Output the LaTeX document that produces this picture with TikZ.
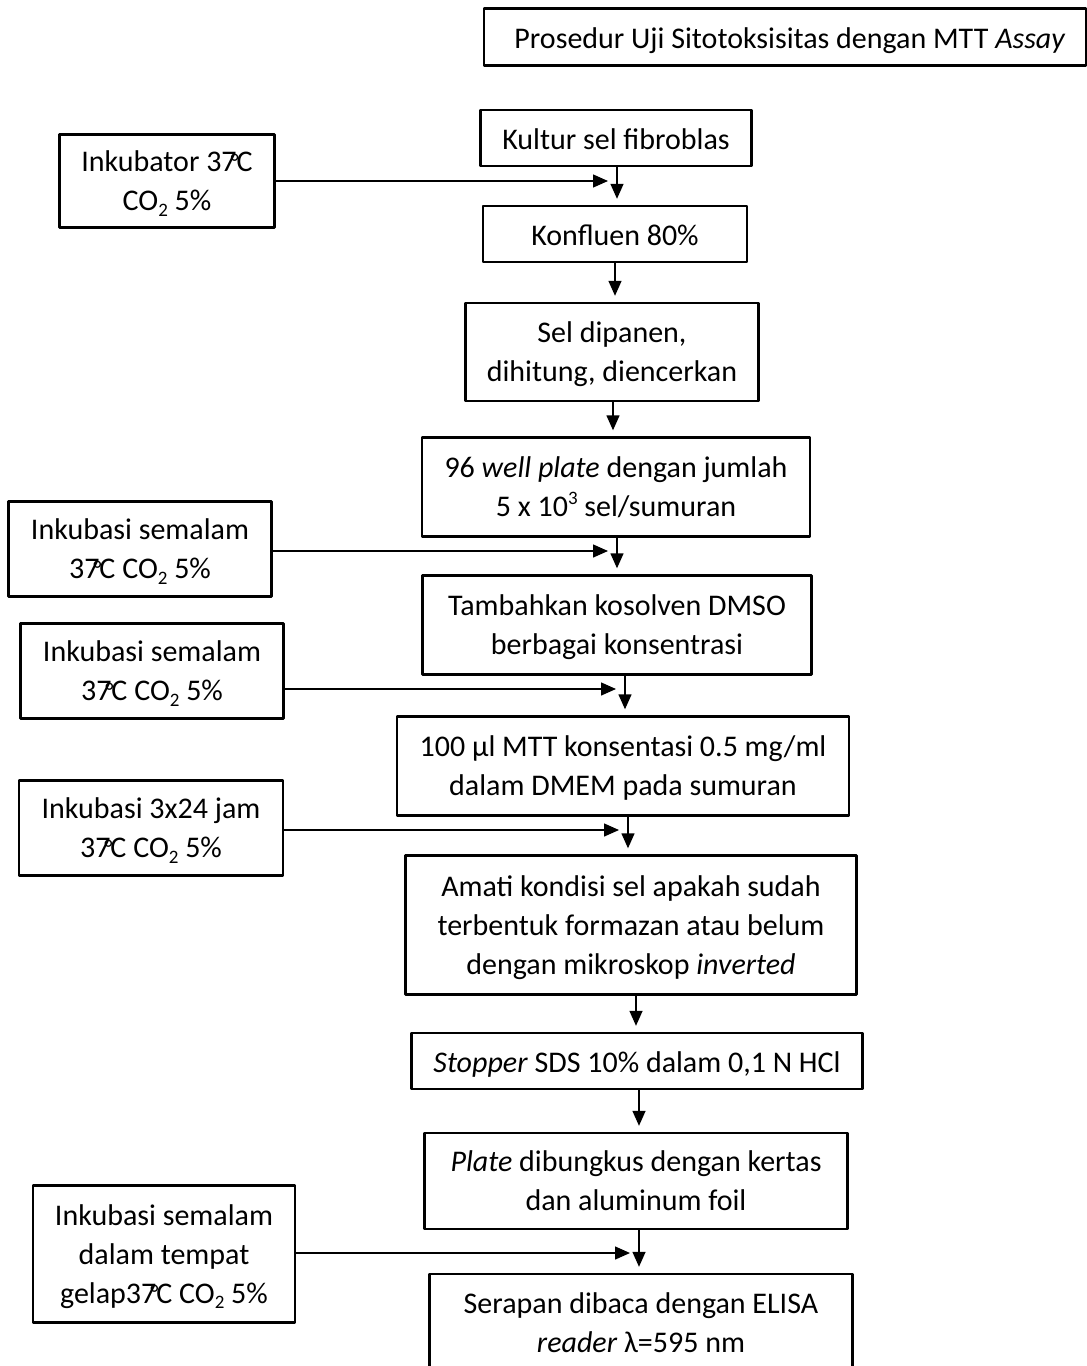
\documentclass[tikz,border=0pt]{standalone}
\usepackage{fontspec}
\setmainfont{Carlito}
\usetikzlibrary{arrows.meta, calc}
\newcommand{\suhu}{37\rlap{\kern-.2em\raisebox{.05em}{\fontsize{24}{24}\selectfont°}}C}
\newcommand{\bawah}[1]{\raisebox{-.17em}{\fontsize{19}{19}\selectfont #1}}
\newcommand{\atas}[1]{\raisebox{.42em}{\fontsize{19}{19}\selectfont #1}}
\begin{document}
\begin{tikzpicture}[x=1pt, y=-1pt, line join=round,
  font=\fontsize{30}{39}\selectfont,
  kotak/.style={draw, line width=2.4pt, align=center, inner sep=0pt,
    text depth=-2pt, execute at begin node={\rule{0pt}{23pt}}},
  panah/.style={line width=1.4pt, -{Triangle[length=15pt,width=13pt]}}]
  \clip (0,0) rectangle (1087,1366);
  % judul
  \node[kotak, minimum width=602, minimum height=57] (judul) at (785,37) {\hspace{10pt}Prosedur Uji Sitotoksisitas dengan MTT \textit{Assay}};
  % alur utama
  \node[kotak, minimum width=271, minimum height=56] (kultur) at (616,138) {Kultur sel fibroblas};
  \node[kotak, minimum width=264, minimum height=56] (konfluen) at (615,234) {Konfluen 80\%};
  \node[kotak, minimum width=293, minimum height=98] (panen) at (612,352) {Sel dipanen,\\dihitung, diencerkan};
  \node[kotak, minimum width=388, minimum height=99] (sumur) at (616,487) {96 \textit{well plate} dengan jumlah\\5 x 10\atas{3} sel/sumuran};
  \node[kotak, minimum width=389, minimum height=99] (dmso) at (617,625) {Tambahkan kosolven DMSO\\berbagai konsentrasi};
  \node[kotak, minimum width=452, minimum height=99] (mtt) at (623,766) {100 µl MTT konsentasi 0.5 mg/ml\\dalam DMEM pada sumuran};
  \node[kotak, minimum width=451, minimum height=139] (amati) at (631,925) {Amati kondisi sel apakah sudah\\terbentuk formazan atau belum\\dengan mikroskop \textit{inverted}};
  \node[kotak, minimum width=451, minimum height=56] (stopper) at (637,1061) {\textit{Stopper} SDS 10\% dalam 0,1 N HCl};
  \node[kotak, minimum width=423, minimum height=96, text depth=-6pt] (plate) at (636,1181) {\textit{Plate} dibungkus dengan kertas\\dan aluminum foil};
  \node[kotak, minimum width=423, minimum height=98, text depth=-6pt] (serapan) at (641,1323) {Serapan dibaca dengan ELISA\\\textit{reader} λ=595 nm};
  % inkubasi
  \node[kotak, minimum width=215, minimum height=93] (inkA) at (167,181) {Inkubator \suhu\\CO\bawah{2} 5\%};
  \node[kotak, minimum width=263, minimum height=95] (inkB) at (140,549) {Inkubasi semalam\\\suhu{} CO\bawah{2} 5\%};
  \node[kotak, minimum width=263, minimum height=95] (inkC) at (152,671) {Inkubasi semalam\\\suhu{} CO\bawah{2} 5\%};
  \node[kotak, minimum width=264, minimum height=95] (inkD) at (151,828) {Inkubasi 3x24 jam\\\suhu{} CO\bawah{2} 5\%};
  \node[kotak, minimum width=262, minimum height=137] (inkE) at (164,1254) {Inkubasi semalam\\dalam tempat\\gelap\suhu{} CO\bawah{2} 5\%};

  \foreach \a/\b/\dx in {kultur/konfluen/1, konfluen/panen/0, panen/sumur/1, sumur/dmso/1, dmso/mtt/8, mtt/amati/5, amati/stopper/5, stopper/plate/2, plate/serapan/3}
    \draw[panah, shorten >=6pt] ([xshift=\dx]\a.south) -- ([xshift=\dx]\a.south |- \b.north);
  \foreach \s/\a/\dx/\dy in {inkA/kultur/1/0, inkB/sumur/1/2, inkC/dmso/8/18, inkD/mtt/5/2, inkE/plate/3/-1}
    \draw[panah, shorten >=9pt] ($(\s.east)+(0,\dy)$) -- ($(\s.east -| \a.south)+(\dx,\dy)$);
\end{tikzpicture}
\end{document}
